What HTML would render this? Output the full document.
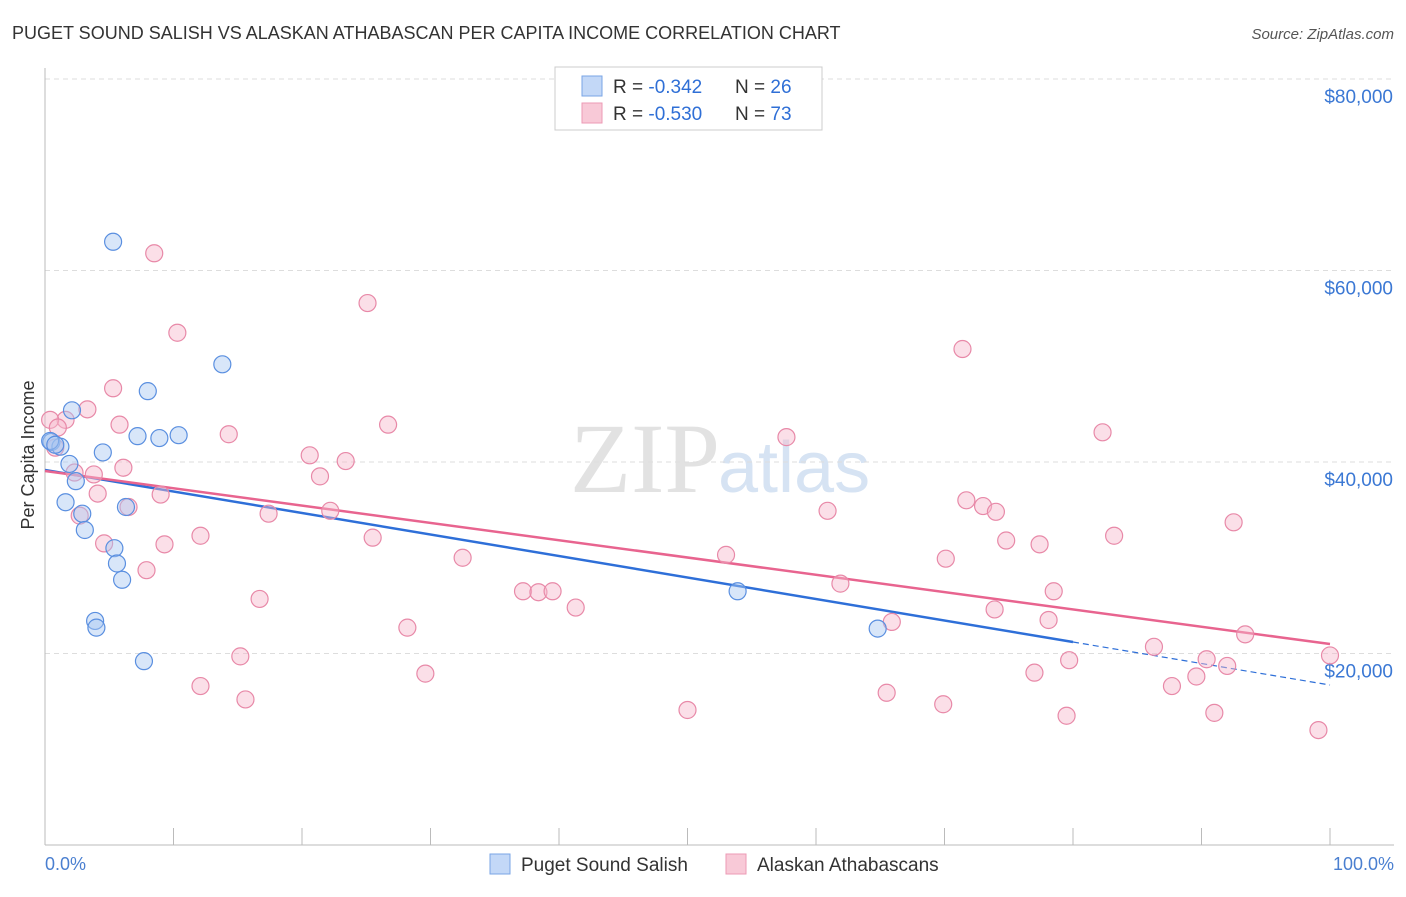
<!DOCTYPE html>
<html><head><meta charset="utf-8"><style>
body{margin:0;background:#fff;font-family:"Liberation Sans",sans-serif;}
svg text{font-family:"Liberation Sans",sans-serif;}
</style></head><body>
<svg id="chart" width="1406" height="892">
<text x="12" y="39" font-size="18" fill="#333">PUGET SOUND SALISH VS ALASKAN ATHABASCAN PER CAPITA INCOME CORRELATION CHART</text>
<text x="1394" y="39" font-size="15" fill="#555" text-anchor="end" font-style="italic">Source: ZipAtlas.com</text>
<text x="720" y="492" font-size="100" fill="#e2e2e2" text-anchor="end" font-family="Liberation Serif" style="font-family:'Liberation Serif',serif">ZIP</text>
<text x="718" y="492" font-size="72" fill="#d6e3f3">atlas</text>
<g id="grid"></g><g id="axes"></g><g id="trend"></g><g id="pts"></g>
<text transform="translate(34,455) rotate(-90)" font-size="18" fill="#333" text-anchor="middle">Per Capita Income</text>
<text x="45" y="870" font-size="18" fill="#4a7fd0">0.0%</text>
<text x="1394" y="870" font-size="18" fill="#4a7fd0" text-anchor="end">100.0%</text>
<g>
<rect x="555" y="67" width="267" height="63" fill="#fff" stroke="#ccc"/>
<rect x="582" y="76" width="20" height="20" fill="#c3d8f7" stroke="#7aa5e6"/>
<rect x="582" y="103" width="20" height="20" fill="#f8c9d7" stroke="#ec9ab4"/>
<text x="613" y="93" font-size="19" fill="#333">R = <tspan fill="#2f6fd6">-0.342</tspan><tspan x="735">N = </tspan><tspan fill="#2f6fd6">26</tspan></text>
<text x="613" y="120" font-size="19" fill="#333">R = <tspan fill="#2f6fd6">-0.530</tspan><tspan x="735">N = </tspan><tspan fill="#2f6fd6">73</tspan></text>
</g>
<g>
<rect x="490" y="854" width="20" height="20" fill="#c3d8f7" stroke="#7aa5e6"/>
<text x="521" y="871" font-size="19" fill="#333">Puget Sound Salish</text>
<rect x="726" y="854" width="20" height="20" fill="#f8c9d7" stroke="#ec9ab4"/>
<text x="757" y="871" font-size="19" fill="#333">Alaskan Athabascans</text>
</g>
</svg>
<script>
const yTicks=[20000,40000,60000,80000];
const yTickLabels=["$20,000","$40,000","$60,000","$80,000"];
const blueX=[5.3,13.8,8.0,2.1,7.2,8.9,10.4,4.5,0.5,1.2,1.9,2.4,1.6,2.9,3.1,6.3,5.4,5.6,6.0,3.9,4.0,7.7,53.9,64.8,0.4,0.8];
const blueY=[63000,50200,47400,45400,42700,42500,42800,41000,42100,41600,39800,38000,35800,34600,32900,35300,31000,29400,27700,23400,22700,19200,26500,22600,42200,41800];
const pinkX=[8.5,25.1,10.3,71.4,5.3,3.3,1.6,5.8,14.3,26.7,82.3,57.7,0.4,1.0,6.1,20.6,23.4,21.4,3.8,2.3,4.1,9.0,71.7,6.5,17.4,22.2,60.9,73.0,74.0,2.7,92.5,12.1,25.5,83.2,4.6,9.3,74.8,77.4,53.0,70.1,32.5,7.9,61.9,37.2,38.4,39.5,78.5,16.7,41.3,73.9,78.1,65.9,28.2,93.4,86.3,15.2,79.7,90.4,100,92.0,29.6,77.0,89.6,12.1,87.7,65.5,15.6,69.9,50.0,79.5,91.0,99.1,0.8];
const pinkY=[61800,56600,53500,51800,47700,45500,44400,43900,42900,43900,43100,42600,44400,43600,39400,40700,40100,38500,38700,38900,36700,36600,36000,35300,34600,34900,34900,35400,34800,34400,33700,32300,32100,32300,31500,31400,31800,31400,30300,29900,30000,28700,27300,26500,26400,26500,26500,25700,24800,24600,23500,23300,22700,22000,20700,19700,19300,19400,19800,18700,17900,18000,17600,16600,16600,15900,15200,14700,14100,13500,13800,12000,41500];
const blueTrend=[39165,16710];
const pinkTrend=[39060,20990];
const NS="http://www.w3.org/2000/svg";
const X=p=>45+p*12.85, Y=v=>845-v*191.5/20000;
function mk(t,a,parent){const e=document.createElementNS(NS,t);for(const k in a)e.setAttribute(k,a[k]);document.getElementById(parent).appendChild(e);return e;}
yTicks.forEach((v,i)=>{
 const l=mk('line',{x1:45,x2:1394,y1:Y(v),y2:Y(v),stroke:'#ddd','stroke-dasharray':'5,4'},'grid');
 
 
 const t=mk('text',{x:1393,y:Y(v)+24,'font-size':19,fill:'#3b78d4','text-anchor':'end'},'grid');
 t.textContent=yTickLabels[i];
 
 
});
const ax=mk('line',{x1:45,x2:45,y1:68,y2:845,stroke:'#bbb'},'axes');


const bx=mk('line',{x1:45,x2:1394,y1:845,y2:845,stroke:'#bbb'},'axes');


for(let i=0;i<=10;i++){
 const t=mk('line',{x1:X(i*10),x2:X(i*10),y1:828,y2:845,stroke:'#bbb'},'axes');
 
 
}
function pts(xs,ys,fill,stroke,name){
 xs.forEach((x,i)=>{
  const c=mk('circle',{cx:X(x),cy:Y(ys[i]),r:8.5,fill:fill,'fill-opacity':0.45,stroke:stroke,'stroke-width':1.2},'pts');
  
  
 });
}
pts(pinkX,pinkY,'#f6b8cb','#e889a8','pink-point');
pts(blueX,blueY,'#a9c8f2','#5a8fe0','blue-point');
const bAt=p=>blueTrend[0]+(blueTrend[1]-blueTrend[0])*p/100;
const b1=mk('line',{x1:X(0),y1:Y(bAt(0)),x2:X(80),y2:Y(bAt(80)),stroke:'#2e6fd8','stroke-width':2.5},'trend');


const b2=mk('line',{x1:X(80),y1:Y(bAt(80)),x2:X(100),y2:Y(bAt(100)),stroke:'#2e6fd8','stroke-width':1.2,'stroke-dasharray':'6,4'},'trend');


const p1=mk('line',{x1:X(0),y1:Y(pinkTrend[0]),x2:X(100),y2:Y(pinkTrend[1]),stroke:'#e8648f','stroke-width':2.5},'trend');


</script>
</body></html>
